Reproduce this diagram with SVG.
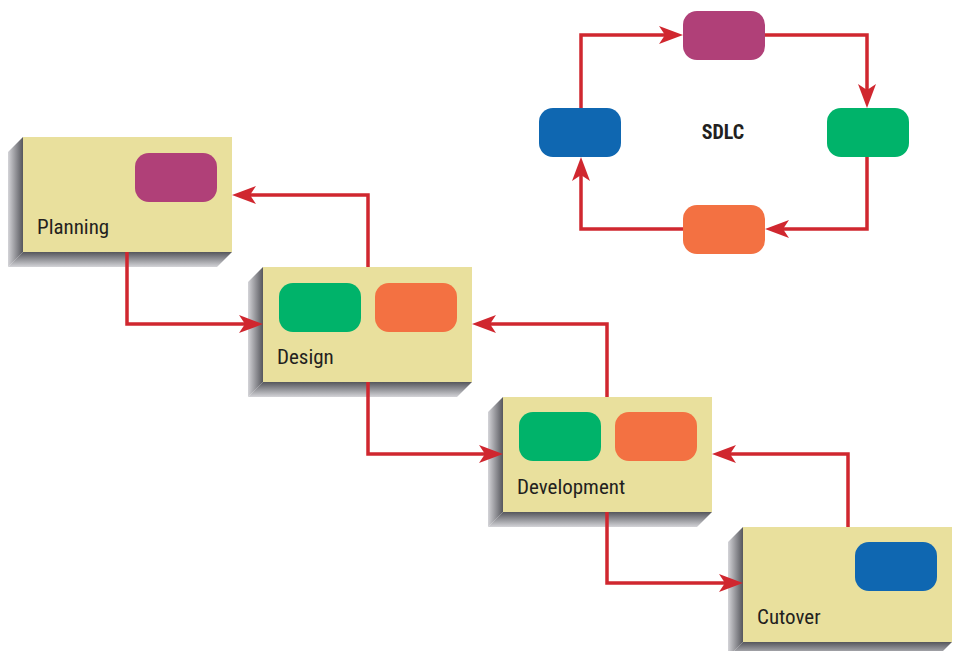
<svg xmlns="http://www.w3.org/2000/svg" width="960" height="651" viewBox="0 0 960 651">
  <defs>
    <linearGradient id="sideShade" x1="0" y1="0" x2="1" y2="0">
      <stop offset="0" stop-color="#d4d4d8"/>
      <stop offset="1" stop-color="#55565c"/>
    </linearGradient>
    <linearGradient id="baseShade" x1="0" y1="0" x2="0" y2="1">
      <stop offset="0" stop-color="#55565c"/>
      <stop offset="1" stop-color="#d4d4d8"/>
    </linearGradient>
    <marker id="arrow" viewBox="0 0 24 18" refX="12" refY="9" markerWidth="24" markerHeight="18" markerUnits="userSpaceOnUse" orient="auto">
      <path d="M0,0 L24,9 L0,18 L6,9 Z" fill="#d0272f"/>
    </marker>
    <!-- extruded phase card: shadow faces + face -->
    <g id="card">
      <polygon points="0,0 -15,15 -15,130 0,115" fill="url(#sideShade)"/>
      <polygon points="0,115 -15,130 194,130 209,115" fill="url(#baseShade)"/>
      <rect x="0" y="0" width="209" height="115" fill="#e9e09d"/>
    </g>
  </defs>
  <style>
    .label { font-family: 'Liberation Sans Narrow', 'Roboto Condensed', 'DejaVu Sans Condensed', sans-serif; font-size: 21px; fill: #231f20; }
    .title { font-family: 'Liberation Sans Narrow', 'Roboto Condensed', 'DejaVu Sans Condensed', sans-serif; font-size: 20px; font-weight: bold; fill: #231f20; }
    .wire { fill: none; stroke: #d0272f; stroke-width: 3.5; marker-end: url(#arrow); }
    .plan { fill: #b04078; }
    .design { fill: #00b36a; }
    .build { fill: #f37142; }
    .cut { fill: #0f67b1; }
  </style>

  <rect width="960" height="651" fill="#ffffff"/>

  <g id="planning">
    <use href="#card" x="23" y="137"/>
    <rect class="plan" x="135" y="153" width="82" height="49" rx="14"/>
    <text class="label" x="37" y="234">Planning</text>
  </g>

  <g id="design">
    <use href="#card" x="263" y="267"/>
    <rect class="design" x="279" y="283" width="82" height="49" rx="14"/>
    <rect class="build" x="375" y="283" width="82" height="49" rx="14"/>
    <text class="label" x="277" y="364">Design</text>
  </g>

  <g id="development">
    <use href="#card" x="503" y="397"/>
    <rect class="design" x="519" y="412" width="82" height="49" rx="14"/>
    <rect class="build" x="615" y="412" width="82" height="49" rx="14"/>
    <text class="label" x="517" y="494">Development</text>
  </g>

  <g id="cutover">
    <use href="#card" x="743" y="527"/>
    <rect class="cut" x="855" y="542" width="82" height="49" rx="14"/>
    <text class="label" x="757" y="624">Cutover</text>
  </g>

  <g id="sdlc">
    <rect class="plan" x="683" y="11" width="82" height="49" rx="14"/>
    <rect class="design" x="827" y="108" width="82" height="49" rx="14"/>
    <rect class="build" x="683" y="205" width="82" height="49" rx="14"/>
    <rect class="cut" x="539" y="108" width="82" height="49" rx="14"/>
    <text class="title" x="723" y="139" text-anchor="middle">SDLC</text>
  </g>

  <!-- flow lines, drawn over the card shadows -->
  <g id="connectors">
    <path class="wire" d="M127,252 V324 H251"/>
    <path class="wire" d="M368,267 V195 H244"/>
    <path class="wire" d="M368,382 V454 H491"/>
    <path class="wire" d="M607,397 V324 H484"/>
    <path class="wire" d="M607,512 V583 H731"/>
    <path class="wire" d="M848,527 V454 H724"/>
    <path class="wire" d="M581,108 V35 H671"/>
    <path class="wire" d="M765,35 H867 V96"/>
    <path class="wire" d="M867,157 V229 H777"/>
    <path class="wire" d="M683,229 H581 V169"/>
  </g>
</svg>
